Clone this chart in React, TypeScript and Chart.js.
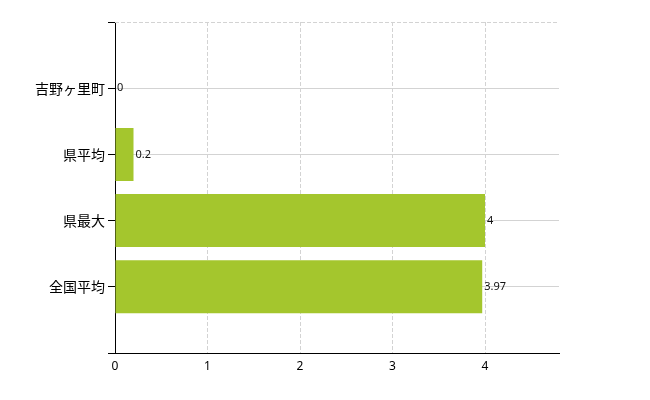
import React, { useEffect, useRef } from "react";
import { Chart, registerables } from "chart.js";

Chart.register(...registerables);

const categories: string[] = ["吉野ヶ里町", "県平均", "県最大", "全国平均"];
const values: number[] = [0, 0.2, 4, 3.97];
const xTicks: number[] = [0, 1, 2, 3, 4];
const xMax = 4.8;

const barColor = "#a4c62d";
const gridColor = "#d3d3d3";

const valueLabelPlugin = {
  id: "valueLabels",
  afterDatasetsDraw(chart: any) {
    const { ctx } = chart;
    const meta = chart.getDatasetMeta(0);
    ctx.save();
    ctx.font = "11px 'Noto Sans', 'DejaVu Sans', sans-serif";
    ctx.fillStyle = "#111";
    ctx.textAlign = "left";
    ctx.textBaseline = "middle";
    meta.data.forEach((el: any, i: number) => {
      const v = chart.data.datasets[0].data[i];
      if (v === null || v === undefined) return;
      ctx.fillText(String(v), el.x + 2, el.y);
    });
    ctx.restore();
  },
};

const topLinePlugin = {
  id: "topDashedLine",
  beforeDatasetsDraw(chart: any) {
    const { ctx, chartArea } = chart;
    ctx.save();
    ctx.strokeStyle = gridColor;
    ctx.lineWidth = 1;
    ctx.setLineDash([4, 2]);
    ctx.beginPath();
    ctx.moveTo(chartArea.left, chartArea.top + 0.5);
    ctx.lineTo(chartArea.right, chartArea.top + 0.5);
    ctx.stroke();
    ctx.restore();
  },
};

export default function App() {
  const ref = useRef<HTMLCanvasElement | null>(null);
  useEffect(() => {
    if (!ref.current) return;
    const labels = ["", ...categories, ""];
    const data = [null, ...values, null];
    const chart = new Chart(ref.current, {
      type: "bar",
      data: {
        labels,
        datasets: [
          {
            data: data as any,
            backgroundColor: barColor,
            borderWidth: 0,
            barPercentage: 0.8,
            categoryPercentage: 1,
          },
        ],
      },
      options: {
        indexAxis: "y",
        animation: false,
        responsive: false,
        devicePixelRatio: 1,
        layout: { padding: { top: 22, right: 91, left: 0, bottom: 0 } },
        plugins: {
          legend: { display: false },
          tooltip: { enabled: false },
        },
        scales: {
          x: {
            type: "linear",
            min: 0,
            max: xMax,
            afterBuildTicks: (scale: any) => {
              scale.ticks = xTicks.map((v) => ({ value: v }));
            },
            afterFit: (scale: any) => {
              scale.height = 47;
            },
            ticks: {
              color: "#000",
              font: { size: 12, family: "'Noto Sans', 'DejaVu Sans', sans-serif" },
              padding: 6,
              maxRotation: 0,
            },
            grid: {
              color: gridColor,
              drawTicks: false,
            },
            border: { display: true, color: "#000", width: 1, dash: [4, 2] },
          },
          y: {
            type: "category",
            offset: false,
            afterFit: (scale: any) => {
              scale.width = 115;
            },
            ticks: {
              color: "#000",
              font: { size: 14, family: "'Noto Sans CJK JP', sans-serif" },
              padding: 3,
              autoSkip: false,
            },
            grid: {
              offset: false,
              color: (ctx: any) => (ctx.index === 0 || ctx.index === 5 ? "rgba(0,0,0,0)" : gridColor),
              tickColor: "#000",
              tickLength: 7,
            },
            border: { display: true, color: "#000", width: 1 },
          },
        },
      },
      plugins: [topLinePlugin, valueLabelPlugin],
    });
    return () => chart.destroy();
  }, []);
  return (
    <div style={{ position: "absolute", left: 0, top: 0, width: 650, height: 400, background: "#fff" }}>
      <canvas ref={ref} width={650} height={400} />
    </div>
  );
}
